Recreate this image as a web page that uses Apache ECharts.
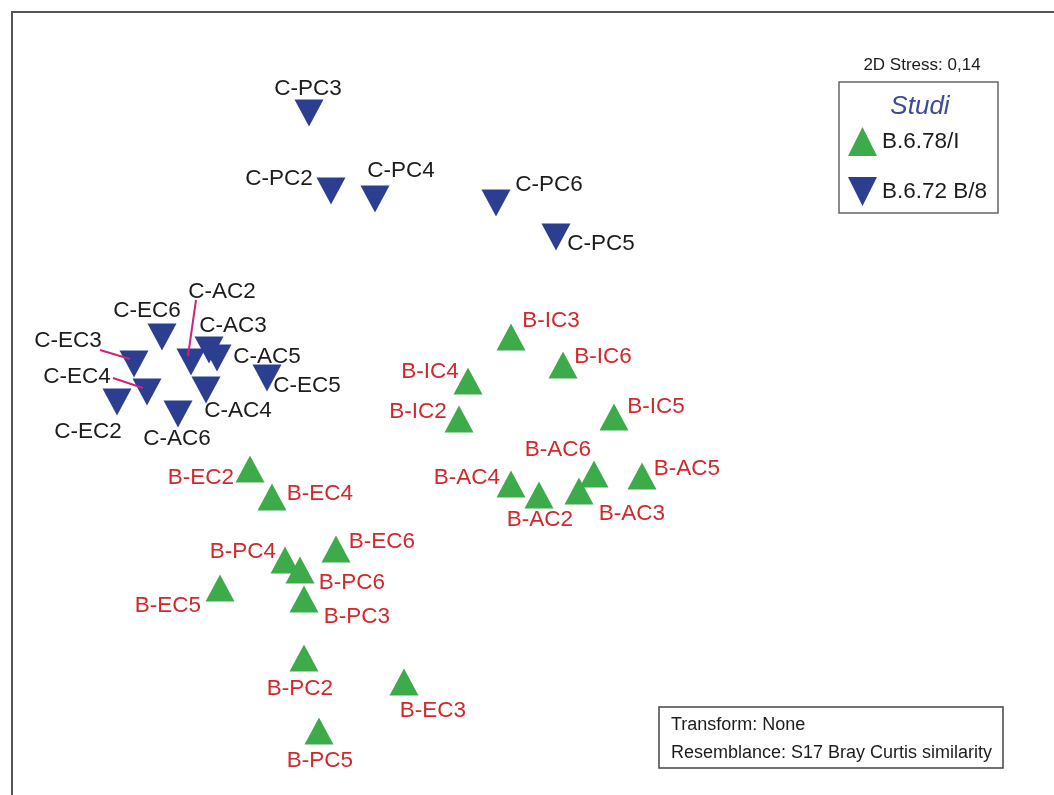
<!DOCTYPE html>
<html>
<head>
<meta charset="utf-8">
<script src="https://cdn.jsdelivr.net/npm/echarts@6/dist/echarts.min.js"></script>
<style>html,body{margin:0;padding:0;background:#fff}#c{width:1054px;height:795px}</style>
</head>
<body>
<div id="c"></div>
<script>
// ---- Data: nMDS coordinates ----
const namesB = ['B-IC3','B-IC6','B-IC4','B-IC2','B-IC5','B-AC6','B-AC5','B-AC4','B-AC2','B-AC3',
                'B-EC2','B-EC4','B-EC6','B-PC4','B-PC6','B-EC5','B-PC3','B-PC2','B-EC3','B-PC5'];
const xB = [-0.08, 0.18, -0.295, -0.34, 0.435, 0.335, 0.575, -0.08, 0.06, 0.26,
            -1.385, -1.275, -0.955, -1.21, -1.135, -1.535, -1.115, -1.115, -0.615, -1.04];
const yB = [0.305, 0.165, 0.085, -0.105, -0.095, -0.38, -0.39, -0.43, -0.485, -0.465,
            -0.355, -0.495, -0.755, -0.81, -0.86, -0.95, -1.005, -1.30, -1.42, -1.665];

const namesC = ['C-PC3','C-PC2','C-PC4','C-PC6','C-PC5','C-EC6','C-EC3','C-EC4','C-EC2','C-AC6',
                'C-AC2','C-AC3','C-AC5','C-AC4','C-EC5'];
const xC = [-1.09, -0.98, -0.76, -0.155, 0.145, -1.825, -1.965, -1.90, -2.05, -1.745,
            -1.68, -1.59, -1.55, -1.605, -1.30];
const yC = [1.425, 1.035, 0.995, 0.975, 0.805, 0.305, 0.17, 0.03, -0.02, -0.08,
            0.18, 0.24, 0.20, 0.04, 0.10];

const seriesNames = ['B.6.78/I', 'B.6.72 B/8'];

// ---- Label placement (style: pixel offsets of label centre from the symbol) ----
const labelOffset = {
  'B-IC3':[40,-16],'B-IC6':[40,-8],'B-IC4':[-38,-9],'B-IC2':[-41,-7],'B-IC5':[42,-10],
  'B-AC6':[-36,-24],'B-AC5':[45,-7],'B-AC4':[-44,-6],'B-AC2':[1,25],'B-AC3':[53,23],
  'B-EC2':[-49,9],'B-EC4':[48,-3],'B-EC6':[46,-7],'B-PC4':[-42,-8],'B-PC6':[52,13],
  'B-EC5':[-52,18],'B-PC3':[53,18],'B-PC2':[-4,31],'B-EC3':[29,29],'B-PC5':[1,30],
  'C-PC3':[-1,-24],'C-PC2':[-52,-12],'C-PC4':[26,-28],'C-PC6':[53,-18],'C-PC5':[45,7],
  'C-EC6':[-15,-26],'C-EC3':[-66,-23],'C-EC4':[-70,-15],'C-EC2':[-29,30],'C-AC6':[-1,25],
  'C-AC2':[31,-70],'C-AC3':[24,-24],'C-AC5':[50,-1],'C-AC4':[32,21],'C-EC5':[40,8]
};
// leader lines: [start offset, end offset] relative to the symbol centre (pixels)
const leaders = {
  'C-EC3':[[-34,-14],[-4,-5]],
  'C-EC4':[[-34,-14],[-4,-4]],
  'C-AC2':[[5,-62],[-3,-6]]
};

const FONT = "'Liberation Sans', Arial, sans-serif";
const GREEN = '#3dab4a', BLUE = '#2c3e90', RED = '#d1282c', DARK = '#1c1c1c';

function build(names, xs, ys, color) {
  return names.map((n, i) => ({
    name: n,
    value: [xs[i], ys[i]],
    label: { offset: labelOffset[n] || [0, 0], color: color }
  }));
}

const chart = echarts.init(document.getElementById('c'));
const labelBase = {
  show: true, position: 'inside', formatter: '{b}', align: 'center', verticalAlign: 'middle',
  fontSize: 22.5, fontFamily: FONT
};

chart.setOption({
  animation: false,
  backgroundColor: '#fff',
  grid: { left: 0, right: 0, top: 0, bottom: 0 },
  xAxis: { type: 'value', min: -2.635, max: 2.635, show: false, splitLine: { show: false } },
  yAxis: { type: 'value', min: -1.985, max: 1.99, show: false, splitLine: { show: false } },
  legend: {
    orient: 'vertical', left: 843, top: 122, itemWidth: 29, itemHeight: 29, itemGap: 21,
    textStyle: { fontSize: 22.5, fontFamily: FONT, color: DARK, padding: [6, 0, 0, 0] },
    selectedMode: false,
    data: [
      { name: seriesNames[0], icon: 'triangle' },
      { name: seriesNames[1], icon: 'path://M0,0L2,0L1,2Z' }
    ]
  },
  series: [
    {
      name: seriesNames[0], type: 'scatter', symbol: 'triangle', symbolSize: [29, 27],
      itemStyle: { color: GREEN, opacity: 1 },
      label: Object.assign({}, labelBase, { color: RED }),
      emphasis: { disabled: true },
      data: build(namesB, xB, yB, RED)
    },
    {
      name: seriesNames[1], type: 'scatter', symbol: 'triangle', symbolRotate: 180, symbolSize: [29, 27],
      itemStyle: { color: BLUE, opacity: 1 },
      label: Object.assign({}, labelBase, { color: DARK }),
      emphasis: { disabled: true },
      data: build(namesC, xC, yC, DARK)
    }
  ]
});

// ---- decorations ----
const graphics = [
  { type: 'rect', shape: { x: 12, y: 12, width: 1060, height: 800 },
    style: { fill: 'none', stroke: '#555', lineWidth: 2 }, z: 1 },
  { type: 'text', style: { text: '2D Stress: 0,14', x: 922, y: 65, align: 'center', verticalAlign: 'middle',
    fontSize: 17, fontFamily: FONT, fill: DARK } },
  { type: 'rect', shape: { x: 839, y: 82, width: 159, height: 131 },
    style: { fill: 'none', stroke: '#666', lineWidth: 1.5 } },
  { type: 'text', style: { text: 'Studi', x: 920, y: 107, align: 'center', verticalAlign: 'middle',
    fontSize: 26, fontStyle: 'italic', fontFamily: FONT, fill: '#3b4a9b' } },
  { type: 'rect', shape: { x: 659, y: 707, width: 344, height: 61 },
    style: { fill: 'none', stroke: '#444', lineWidth: 1.5 } },
  { type: 'text', style: { text: 'Transform: None', x: 671, y: 725, align: 'left', verticalAlign: 'middle',
    fontSize: 18, fontFamily: FONT, fill: DARK } },
  { type: 'text', style: { text: 'Resemblance: S17 Bray Curtis similarity', x: 671, y: 753, align: 'left',
    verticalAlign: 'middle', fontSize: 18, fontFamily: FONT, fill: DARK } }
];
Object.keys(leaders).forEach(n => {
  const i = namesC.indexOf(n);
  const p = chart.convertToPixel({ gridIndex: 0 }, [xC[i], yC[i]]);
  const [s, e] = leaders[n];
  graphics.push({ type: 'line', z: 100,
    shape: { x1: p[0] + s[0], y1: p[1] + s[1], x2: p[0] + e[0], y2: p[1] + e[1] },
    style: { stroke: '#d0237c', lineWidth: 2 } });
});
chart.setOption({ graphic: graphics });
</script>
</body>
</html>
